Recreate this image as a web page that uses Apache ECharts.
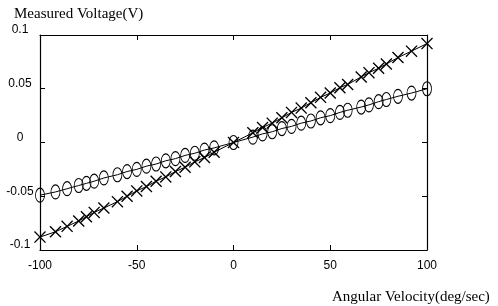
<!DOCTYPE html>
<html>
<head>
<meta charset="utf-8">
<script src="https://cdn.jsdelivr.net/npm/echarts@6/dist/echarts.min.js"></script>
<style>
html,body{margin:0;padding:0;background:#fff;}
#chart{width:498px;height:306px;}
</style>
</head>
<body>
<div id="chart"></div>
<script>
const velocities = [-100,-92,-86,-80,-76,-72,-67,-60,-55,-50,-45,-40,-35,-30,-25,-20,-15,-10,0,10,15,20,25,30,35,40,45,50,55,59,66,70,75,79,85,92,100];
const circleVolts = [-0.049,-0.046,-0.043,-0.040,-0.038,-0.036,-0.033,-0.030,-0.027,-0.025,-0.022,-0.020,-0.017,-0.015,-0.012,-0.010,-0.007,-0.005,0,0.005,0.008,0.010,0.013,0.015,0.018,0.020,0.023,0.025,0.028,0.030,0.033,0.035,0.038,0.040,0.043,0.046,0.050];
const crossVolts = [-0.088,-0.083,-0.078,-0.073,-0.069,-0.065,-0.061,-0.055,-0.050,-0.045,-0.041,-0.036,-0.032,-0.027,-0.023,-0.018,-0.014,-0.009,0,0.009,0.014,0.018,0.023,0.028,0.032,0.037,0.042,0.046,0.051,0.054,0.061,0.065,0.069,0.073,0.079,0.085,0.092];
const xTicks = [-100,-50,0,50,100];
const yTicks = [-0.1,-0.05,0,0.05,0.1];

const pair = (ys) => velocities.map((v, i) => [v, ys[i]]);
const crossPath = 'path://M0,0.8 L0.8,0 L5,4.2 L9.2,0 L10,0.8 L5.8,5 L10,9.2 L9.2,10 L5,5.8 L0.8,10 L0,9.2 L4.2,5 Z';

const chart = echarts.init(document.getElementById('chart'), null, {renderer: 'canvas'});
const axisLineStyle = {color: '#000', width: 1.2};
const sans = 'Liberation Sans, Arial, sans-serif';
const serif = 'Liberation Serif, Times New Roman, serif';
chart.setOption({
  animation: false,
  backgroundColor: '#fff',
  grid: {left: 40, right: 71, top: 35, bottom: 56},
  title: [
    {text: 'Measured Voltage(V)', left: 9, top: 2, textStyle: {fontFamily: serif, fontSize: 15, fontWeight: 'normal', color: '#000'}},
    {text: 'Angular Velocity(deg/sec)', left: 327, top: 285, textStyle: {fontFamily: serif, fontSize: 15, fontWeight: 'normal', color: '#000'}}
  ],
  xAxis: [
    {type: 'value', position: 'bottom', min: -100, max: 100, interval: 50,
      axisLine: {show: true, onZero: false, lineStyle: axisLineStyle},
      axisTick: {show: true, inside: true, length: 5, lineStyle: {color: '#000'}},
      axisLabel: {color: '#000', fontFamily: sans, fontSize: 12, margin: 10, formatter: v => xTicks.includes(v) ? String(v) : ''},
      splitLine: {show: false}},
    {type: 'value', position: 'top', min: -100, max: 100, interval: 50,
      axisLine: {show: true, onZero: false, lineStyle: axisLineStyle},
      axisTick: {show: true, inside: true, length: 5, lineStyle: {color: '#000'}},
      axisLabel: {show: false}, splitLine: {show: false}}
  ],
  yAxis: [
    {type: 'value', position: 'left', min: -0.1, max: 0.1, interval: 0.05,
      axisLine: {show: true, onZero: false, lineStyle: axisLineStyle},
      axisTick: {show: true, inside: true, length: 5, lineStyle: {color: '#000'}},
      axisLabel: {color: '#000', fontFamily: sans, fontSize: 12, margin: 20, align: 'center', verticalAlign: 'bottom', lineHeight: 10,
        formatter: v => { const t = yTicks.find(k => Math.abs(k - v) < 1e-9); return t === undefined ? '' : String(t); }},
      splitLine: {show: false}},
    {type: 'value', position: 'right', min: -0.1, max: 0.1, interval: 0.05,
      axisLine: {show: true, onZero: false, lineStyle: axisLineStyle},
      axisTick: {show: true, inside: true, length: 5, lineStyle: {color: '#000'}},
      axisLabel: {show: false}, splitLine: {show: false}}
  ],
  series: [
    {type: 'line', name: 'circle', data: pair(circleVolts), xAxisIndex: 0, yAxisIndex: 0,
      symbol: 'circle', symbolSize: [9, 14], showAllSymbol: true,
      lineStyle: {color: '#000', width: 1},
      itemStyle: {color: 'rgba(0,0,0,0)', borderColor: '#000', borderWidth: 1}},
    {type: 'line', name: 'cross', data: pair(crossVolts), xAxisIndex: 0, yAxisIndex: 0,
      symbol: crossPath, symbolSize: 12, showAllSymbol: true,
      lineStyle: {color: '#000', width: 1},
      itemStyle: {color: '#000'}}
  ]
});
</script>
</body>
</html>
